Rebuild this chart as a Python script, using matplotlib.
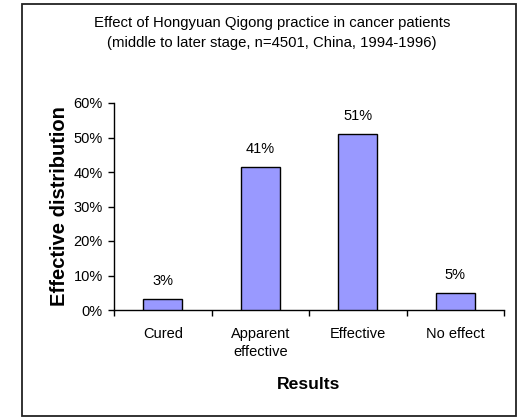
import matplotlib
matplotlib.use("Agg")
import matplotlib.pyplot as plt
from matplotlib.patches import Rectangle

plt.rcParams['font.family'] = ['Liberation Sans', 'DejaVu Sans']

categories = ["Cured", "Apparent\neffective", "Effective", "No effect"]
values = [0.032, 0.414, 0.509, 0.049]
yticks = [0.0, 0.1, 0.2, 0.3, 0.4, 0.5, 0.6]
ytick_labels = ["0%", "10%", "20%", "30%", "40%", "50%", "60%"]
title = "Effect of Hongyuan Qigong practice in cancer patients\n(middle to later stage, n=4501, China, 1994-1996)"

W, H = 519, 417
fig = plt.figure(figsize=(W / 100, H / 100), dpi=100)
fig.patch.set_facecolor("white")

# outer chart-area border
fig.add_artist(Rectangle((22 / W, 1 - 416 / H), (516 - 22) / W, (416 - 3.5) / H,
                         transform=fig.transFigure, fill=False,
                         edgecolor="#222222", linewidth=1.3))

ax = fig.add_axes([114 / W, 1 - 310 / H, (504 - 114) / W, (310 - 103) / H])
x = list(range(len(categories)))
ax.bar(x, values, width=0.4, color="#9999FF", edgecolor="black", linewidth=1.0, zorder=3)

for xi, v in zip(x, values):
    ax.annotate(f"{v:.0%}", (xi, v), xytext=(0, 8), textcoords="offset points",
                ha="center", va="bottom", fontsize=10.5)

ax.set_xlim(-0.5, len(categories) - 0.5)
ax.set_ylim(0, 0.6)
ax.set_yticks(yticks)
ax.set_yticklabels(ytick_labels, fontsize=10.5)
ax.set_xticks([i - 0.5 for i in range(len(categories) + 1)])
ax.set_xticklabels([])
ax.set_xticks(x, minor=True)
ax.set_xticklabels(categories, minor=True, fontsize=10.5, linespacing=1.35)
ax.tick_params(axis="x", which="minor", length=0, pad=12)
ax.tick_params(axis="x", which="major", direction="out", length=4, width=1)
ax.tick_params(axis="y", direction="out", length=4, width=1, pad=4)

for s in ["top", "right"]:
    ax.spines[s].set_visible(False)
for s in ["left", "bottom"]:
    ax.spines[s].set_linewidth(1.0)

ax.set_xlabel("Results", fontsize=12.6, fontweight="bold", labelpad=13)
ax.set_ylabel("Effective distribution", fontsize=14.5, fontweight="bold", labelpad=3.5)

fig.text(272 / W, 1 - 33 / H, title, ha="center", va="center", fontsize=10.7, linespacing=1.55)

fig.savefig("out.png", dpi=100)
